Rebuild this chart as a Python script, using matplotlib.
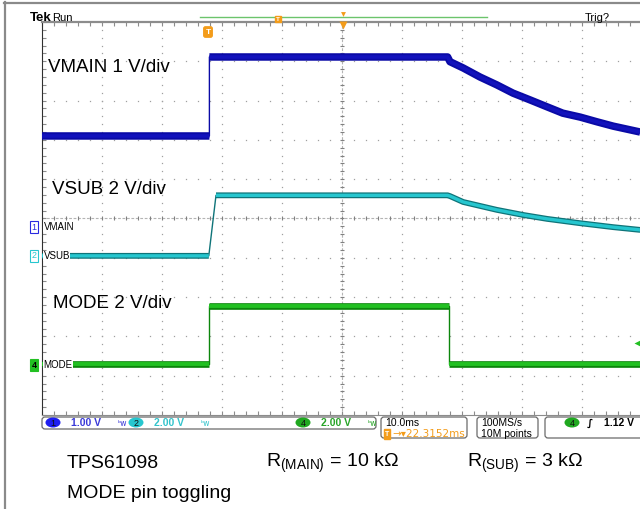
import numpy as np
import matplotlib
matplotlib.use('Agg')
import matplotlib.pyplot as plt
from matplotlib.patches import FancyBboxPatch, Ellipse

# -------------------------------- #
# ------------ Data -------------- #
# -------------------------------- #

# scope traces, x in divisions (10 ms/div), y in divisions from bottom of graticule
vmain_t = [0.0, 2.79, 2.79, 6.76, 6.80, 7.02, 7.30, 7.58, 7.85, 8.13, 8.42, 8.68, 8.97, 9.25, 9.52, 9.97]
vmain_v = [7.10, 7.10, 9.11, 9.11, 8.99, 8.83, 8.60, 8.40, 8.19, 8.02, 7.84, 7.68, 7.58, 7.46, 7.35, 7.20]

vsub_t = [0.0, 2.78, 2.90, 6.76, 6.80, 7.02, 7.30, 7.58, 8.02, 8.42, 8.97, 9.52, 9.97]
vsub_v = [4.05, 4.05, 5.59, 5.59, 5.57, 5.42, 5.32, 5.22, 5.09, 4.99, 4.88, 4.78, 4.71]

mode_t = [0.0, 2.78, 2.78, 6.79, 6.79, 9.97]
mode_v = [1.30, 1.30, 2.77, 2.77, 1.30, 1.30]

# labels shown on screen
trace_titles = ['VMAIN 1 V/div', 'VSUB 2 V/div', 'MODE 2 V/div']
channel_names = ['VMAIN', 'VSUB', 'MODE']
channel_nums = ['1', '2', '4']
channel_scales = ['1.00 V', '2.00 V', '2.00 V']
timebase = '10.0ms'
trig_pos = '22.3152ms'
rate = '100MS/s'
points = '10M points'
trig_level = '1.12 V'

BLUE = '#0a0aa6'
CYAN = '#26c6cf'
TEAL = '#0f7479'
GREEN = '#22c022'
DGREEN = '#0c860c'
ORANGE = '#f39c1a'

plt.rcParams['font.family'] = ['Liberation Sans', 'DejaVu Sans']
plt.rcParams['mathtext.fontset'] = 'custom'
plt.rcParams['mathtext.rm'] = 'Liberation Sans'
plt.rcParams['mathtext.it'] = 'Liberation Sans:italic'

W, H = 640, 509
fig = plt.figure(figsize=(W / 100, H / 100), dpi=100)

# -------------------------------- #
# --------- Graticule ------------ #
# -------------------------------- #

ax = fig.add_axes([42 / W, (H - 415) / H, 600 / W, 393 / H])
ax.set_xlim(0, 10)
ax.set_ylim(0, 10)
ax.spines['right'].set_visible(False)
ax.spines['left'].set_color('#303030')
ax.spines['top'].set_color('#8c8c8c')
ax.spines['top'].set_linewidth(1.6)
ax.spines['bottom'].set_color('#8c8c8c')
minor = np.arange(0, 10.01, 0.2)
ax.set_xticks(minor)
ax.set_yticks(minor)
ax.tick_params(direction='in', length=3, width=0.8, color='#8c8c8c',
               top=True, bottom=True, left=True, right=False,
               labelbottom=False, labelleft=False)

# dotted graticule lines
for i in range(1, 10):
    if i == 5:
        continue
    ax.plot(np.full(len(minor), i), minor, ls='none', marker='s', ms=0.9,
            color='#a0a0a0', mec='none', zorder=1)
    ax.plot(minor, np.full(len(minor), i), ls='none', marker='s', ms=0.9,
            color='#a0a0a0', mec='none', zorder=1)

# center cross with ticks
ax.axhline(5, color='#b4b4b4', lw=0.8, ls=(0, (2.5, 1.5)), zorder=1)
ax.axvline(5, color='#b4b4b4', lw=0.8, ls=(0, (2.5, 1.5)), zorder=1)
ax.plot(minor, np.full(len(minor), 5), ls='none', marker='|', ms=3.5,
        color='#808080', mew=0.8, zorder=1)
ax.plot(np.full(len(minor), 5), minor, ls='none', marker='_', ms=3.5,
        color='#808080', mew=0.8, zorder=1)


# function to draw a trace: thin path everywhere, thick band on the
# slow parts (fast edges stay thin like on the scope)
def draw_trace(t, v, dark, light, wide, narrow):
    t = list(t)
    v = list(v)
    ax.plot(t, v, color=dark, lw=1.0, zorder=3, solid_capstyle='butt')
    tt, vv = [t[0]], [v[0]]
    for k in range(1, len(t)):
        if t[k] - t[k - 1] < 0.15 and abs(v[k] - v[k - 1]) > 0.5:
            tt.append(np.nan)
            vv.append(np.nan)
        tt.append(t[k])
        vv.append(v[k])
    ax.plot(tt, vv, color=dark, lw=wide, zorder=4, solid_capstyle='butt',
            solid_joinstyle='round')
    if light is not None:
        ax.plot(tt, vv, color=light, lw=narrow, zorder=5, solid_capstyle='butt',
                solid_joinstyle='round')


draw_trace(vmain_t, vmain_v, BLUE, '#1212bc', 5.4, 2.6)
draw_trace(vsub_t, vsub_v, TEAL, CYAN, 4.2, 2.4)
draw_trace(mode_t, mode_v, DGREEN, GREEN, 4.8, 2.8)

# -------------------------------- #
# ---------- Overlay ------------- #
# -------------------------------- #

ov = fig.add_axes([0, 0, 1, 1], zorder=10)
ov.set_xlim(0, W)
ov.set_ylim(H, 0)
ov.axis('off')

# screenshot frame
ov.plot([4.5, 4.5], [2, H], color='#8a8a8a', lw=1.6)
ov.plot([4, W], [2.5, 2.5], color='#8a8a8a', lw=1.6)

# top bar
ov.text(30, 18, 'Tek', fontsize=9.5, fontweight='bold', va='center', ha='left')
ov.text(52, 18, 'Run', fontsize=8, va='center', ha='left')
ov.text(585, 18, 'Trig?', fontsize=8, va='center', ha='left')
ov.plot([200, 487], [17, 17], color='#6cc46c', lw=1.0)
ov.text(278, 19, 'T', fontsize=4.5, color='white', fontweight='bold', ha='center', va='center',
        bbox=dict(boxstyle='square,pad=0.15', fc=ORANGE, ec=ORANGE))
ov.plot([343], [14], marker='v', ms=3.5, color=ORANGE, mec='none')
ov.plot([343], [25], marker='v', ms=6, color=ORANGE, mec='none')
ov.text(208, 32, 'T', fontsize=6, color='white', fontweight='bold', ha='center', va='center',
        bbox=dict(boxstyle='round,pad=0.2', fc=ORANGE, ec=ORANGE))

# trace titles
ov.text(48, 67, trace_titles[0], fontsize=13.5, va='center', ha='left')
ov.text(52, 190, trace_titles[1], fontsize=13.5, va='center', ha='left')
ov.text(53, 303, trace_titles[2], fontsize=13.5, va='center', ha='left')

# channel ground markers at left
marker_y = [227, 256, 365]
marker_col = ['#2a2ae0', CYAN, GREEN]
for k in range(3):
    if k == 2:
        ov.text(34, marker_y[k], channel_nums[k], fontsize=6.5, color='black', fontweight='bold',
                ha='center', va='center',
                bbox=dict(boxstyle='square,pad=0.12', fc=marker_col[k], ec=marker_col[k], lw=0.8))
    else:
        ov.text(34, marker_y[k], channel_nums[k], fontsize=6.5, color=marker_col[k],
                ha='center', va='center',
                bbox=dict(boxstyle='square,pad=0.12', fc='white', ec=marker_col[k], lw=0.8))
    ov.text(43.5, marker_y[k], channel_names[k], fontsize=7, ha='left', va='center',
            bbox=dict(boxstyle='square,pad=0.05', fc='white', ec='none'))

# trigger level arrow at right
ov.plot([637], [343], marker='<', ms=5, color=GREEN, mec='none')


# status bar
def box(x0, y0, x1, y1):
    ov.add_patch(FancyBboxPatch((x0, y0), x1 - x0, y1 - y0,
                                boxstyle='round,pad=0,rounding_size=3',
                                fc='white', ec='#6a6a6a', lw=0.9))


def chan_badge(x, y, num, col):
    ov.add_patch(Ellipse((x, y), 15, 10, fc=col, ec='none'))
    ov.text(x, y + 0.5, num, fontsize=6.5, ha='center', va='center', color='#101010')


box(42, 417, 376, 429)
box(381, 417, 467, 438)
box(477, 417, 538, 438)
box(545, 417, 660, 438)

scale_cols = ['#3a3ad8', '#33c4cc', '#28a428']
scale_x = [53, 136, 303]
for k in range(3):
    chan_badge(scale_x[k], 422.5, channel_nums[k], ['#1f1ff0', CYAN, '#20a820'][k])
    ov.text(scale_x[k] + 18, 423, channel_scales[k], fontsize=7.5, fontweight='bold',
            color=scale_cols[k], ha='left', va='center')
    ov.text(scale_x[k] + 65, 423, 'ᵇw', fontsize=5.5, color=scale_cols[k],
            ha='left', va='center', family=['DejaVu Sans'])

ov.text(385, 423, timebase, fontsize=7.5, ha='left', va='center')
ov.text(387, 434, 'T', fontsize=5, color='white', fontweight='bold', ha='center', va='center',
        bbox=dict(boxstyle='square,pad=0.15', fc=ORANGE, ec=ORANGE))
ov.text(392, 434, '→▾' + trig_pos, fontsize=7.5, color=ORANGE, ha='left', va='center',
        family=['DejaVu Sans'])
ov.text(481, 423, rate, fontsize=7.5, ha='left', va='center')
ov.text(481, 434, points, fontsize=7.5, ha='left', va='center')
chan_badge(572, 422.5, '4', '#20a820')
ov.text(590, 423, '∫', fontsize=7.5, fontweight='bold', ha='center', va='center',
        family=['DejaVu Sans'])
ov.text(604, 423, trig_level, fontsize=7.5, fontweight='bold', ha='left', va='center')

# caption under the screen
ov.text(67, 463, 'TPS61098', fontsize=14, ha='left', va='center')
ov.text(266, 463, r'R$_{\mathrm{(MAIN)}}$ = 10 kΩ', fontsize=14, ha='left', va='center')
ov.text(467, 463, r'R$_{\mathrm{(SUB)}}$ = 3 kΩ', fontsize=14, ha='left', va='center')
ov.text(67, 494, 'MODE pin toggling', fontsize=14, ha='left', va='center')

fig.savefig('out.png', dpi=100)
